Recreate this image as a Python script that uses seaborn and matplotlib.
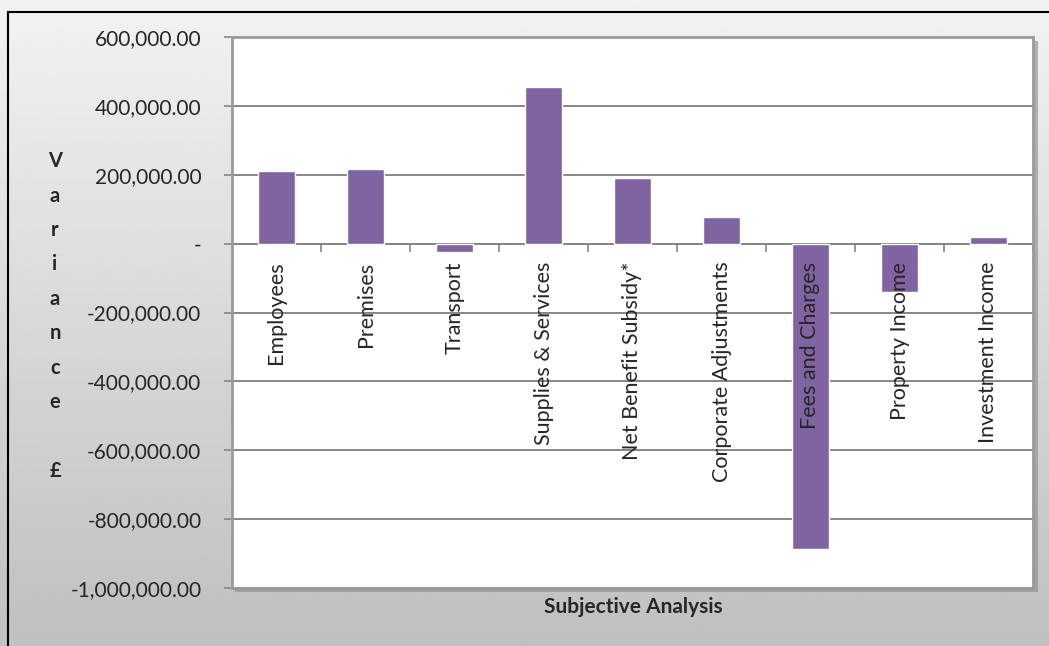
import numpy as np
import pandas as pd
import matplotlib.pyplot as plt
import matplotlib.ticker as mticker
from matplotlib.patches import Rectangle
import seaborn as sns

# data
categories = ['Employees', 'Premises', 'Transport', 'Supplies & Services',
              'Net Benefit Subsidy*', 'Corporate Adjustments', 'Fees and Charges',
              'Property Income', 'Investment Income']
variance = [212000, 218000, -23000, 456000, 192000, 78000, -887000, -140000, 19000]
y_ticks = [600000, 400000, 200000, 0, -200000, -400000, -600000, -800000, -1000000]

df = pd.DataFrame({'cat': categories, 'var': variance})

sns.set_style('white')
plt.rcParams['font.family'] = ['Lato', 'DejaVu Sans']

W, H = 1049, 646
fig = plt.figure(figsize=(W / 100, H / 100), dpi=100)

# grey gradient background
bg = fig.add_axes([0, 0, 1, 1], zorder=0)
grad = np.linspace(0.95, 0.75, 256).reshape(-1, 1)
bg.imshow(grad, cmap='gray', vmin=0, vmax=1, aspect='auto', extent=[0, 1, 0, 1])
bg.set_xlim(0, 1)
bg.set_ylim(0, 1)
bg.axis('off')
# outer black frame
bg.add_patch(Rectangle((8 / W, -0.1), 1.2, 1 - 12 / H + 0.1, fill=False,
                       edgecolor='black', linewidth=1.5))

x0, x1 = 232 / W, 1033 / W
y0, y1 = 1 - 588 / H, 1 - 37 / H
# shadow of the plot area
bg.add_patch(Rectangle((x0 + 3 / W, y0 - 4 / H), x1 - x0 + 2 / W, y1 - y0,
                       facecolor='#8a8a8a', edgecolor='none', alpha=0.6))

ax = fig.add_axes([x0, y0, x1 - x0, y1 - y0], zorder=1)
ax.set_facecolor('white')
sns.barplot(data=df, x='cat', y='var', color='#8064A2', saturation=1,
            width=0.41, ax=ax, zorder=3)

ax.set_ylim(-1000000, 600000)
ax.set_xlim(-0.5, len(categories) - 0.5)
ax.set_yticks(y_ticks)
ax.yaxis.set_major_formatter(mticker.FuncFormatter(
    lambda v, p: '-' if v == 0 else f'{v:,.2f}'))
# gridlines behind the bars, axis labels above them
for t in y_ticks:
    ax.axhline(t, color='#868686', linewidth=1.4, zorder=1)
ax.xaxis.set_zorder(4)
ax.yaxis.set_zorder(4)

for s in ['top', 'right', 'left']:
    ax.spines[s].set_visible(False)
ax.spines['bottom'].set_position(('data', 0))
ax.spines['bottom'].set_color('#868686')
ax.spines['bottom'].set_linewidth(1.4)
ax.spines['bottom'].set_zorder(1)
ax.add_patch(Rectangle((0, 0), 1, 1, transform=ax.transAxes, fill=False,
                       edgecolor='#9a9a9a', linewidth=2, zorder=5, clip_on=False))

ax.tick_params(axis='y', length=6, width=1.2, color='#868686', pad=16,
               labelsize=15, left=True)
ax.set_xticks(np.arange(len(categories)) + 0.5, minor=True)
ax.tick_params(axis='x', which='major', length=0, pad=13, labelsize=15.5,
               labelrotation=90)
ax.tick_params(axis='x', which='minor', length=6, width=1.2, color='#868686',
               bottom=True, direction='out')
ax.set_xlabel('')
ax.set_ylabel('')

fig.text(633 / W, 1 - 607 / H, 'Subjective Analysis', ha='center', va='center',
         fontsize=15, fontweight='bold')
fig.text(55 / W, 1 - 316 / H, 'V\na\nr\ni\na\nn\nc\ne\n\n£', ha='center',
         va='center', fontsize=14.5, fontweight='bold', linespacing=1.9)

fig.savefig('out.png', dpi=100)
